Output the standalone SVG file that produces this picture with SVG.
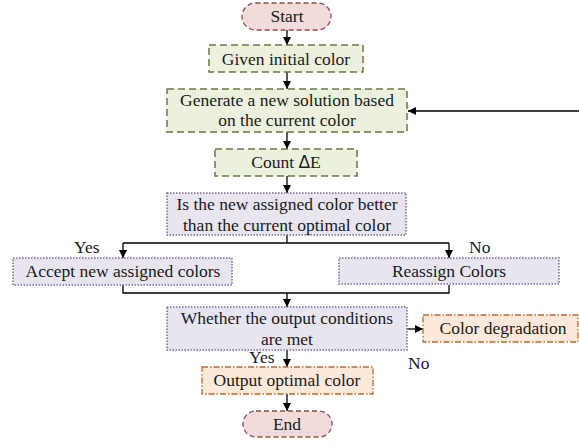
<svg xmlns="http://www.w3.org/2000/svg" width="579" height="446" viewBox="0 0 579 446">
<defs>
<style>
text{font-family:'Liberation Serif','Times New Roman',Times,serif;font-size:17.5px;fill:#1a1a1a;text-anchor:middle}
.term{fill:#f2dcdb;stroke:#8c4f4c;stroke-width:1.3;stroke-dasharray:5 3}
.green{fill:#ebf1dd;stroke:#687a43;stroke-width:1.5;stroke-dasharray:7 4}
.purple{fill:#e8e5ef;stroke:#7a6a9a;stroke-width:1.5;stroke-dasharray:1.5 1.5}
.orange{fill:#fde9d9;stroke:#b86b2c;stroke-width:1.3;stroke-dasharray:6 2 1.5 2}
.conn{fill:none;stroke:#000;stroke-width:1.3}
.lbl{text-anchor:start}
</style>
<marker id="arr" viewBox="0 0 10 10" refX="10" refY="5" markerWidth="8" markerHeight="8" markerUnits="userSpaceOnUse" orient="auto">
<path d="M0,0 L10,5 L0,10 z" fill="#000"/>
</marker>
</defs>
<rect width="579" height="446" fill="#fff"/>

<g id="connectors">
<line class="conn" x1="287" y1="30" x2="287" y2="45" marker-end="url(#arr)"/>
<line class="conn" x1="287" y1="72" x2="287" y2="89" marker-end="url(#arr)"/>
<line class="conn" x1="287" y1="132" x2="287" y2="149" marker-end="url(#arr)"/>
<line class="conn" x1="287" y1="176" x2="287" y2="193" marker-end="url(#arr)"/>
<line class="conn" x1="579" y1="111" x2="408" y2="111" marker-end="url(#arr)"/>
<polyline class="conn" points="287,235 287,243"/>
<polyline class="conn" points="123,243 449,243"/>
<line class="conn" x1="123" y1="243" x2="123" y2="258" marker-end="url(#arr)"/>
<line class="conn" x1="449" y1="243" x2="449" y2="258" marker-end="url(#arr)"/>
<polyline class="conn" points="123,285 123,293 449,293 449,285"/>
<line class="conn" x1="287" y1="293" x2="287" y2="307" marker-end="url(#arr)"/>
<line class="conn" x1="407" y1="329" x2="423" y2="329" marker-end="url(#arr)"/>
<line class="conn" x1="287" y1="350" x2="287" y2="367" marker-end="url(#arr)"/>
<line class="conn" x1="287" y1="394" x2="287" y2="411" marker-end="url(#arr)"/>
<text class="lbl" x="74" y="253">Yes</text>
<text class="lbl" x="469" y="253">No</text>
<text class="lbl" x="249" y="363">Yes</text>
<text class="lbl" x="408" y="369">No</text>
</g>

<g id="start">
<rect class="term" x="242" y="3" width="89" height="27" rx="13.5"/>
<text x="287" y="22">Start</text>
</g>
<g id="given">
<rect class="green" x="209" y="45" width="154" height="27"/>
<text x="286" y="65">Given initial color</text>
</g>
<g id="generate">
<rect class="green" x="167" y="89" width="240" height="43"/>
<text x="287" y="106">Generate a new solution based</text>
<text x="287" y="126">on the current color</text>
</g>
<g id="count">
<rect class="green" x="215" y="149" width="142" height="27"/>
<text x="286" y="168">Count <tspan style="font-family:'Liberation Sans',Arial,sans-serif">Δ</tspan>E</text>
</g>
<g id="decision1">
<rect class="purple" x="167" y="193" width="239" height="42"/>
<text x="287" y="210">Is the new assigned color better</text>
<text x="287" y="231">than the current optimal color</text>
</g>
<g id="accept">
<rect class="purple" x="13" y="258" width="219" height="27"/>
<text x="123" y="277">Accept new assigned colors</text>
</g>
<g id="reassign">
<rect class="purple" x="339" y="258" width="220" height="26"/>
<text x="449" y="277">Reassign Colors</text>
</g>
<g id="decision2">
<rect class="purple" x="167" y="307" width="240" height="43"/>
<text x="287" y="324">Whether the output conditions</text>
<text x="287" y="345">are met</text>
</g>
<g id="degradation">
<rect class="orange" x="423" y="315" width="155" height="27"/>
<text x="503" y="334">Color degradation</text>
</g>
<g id="output">
<rect class="orange" x="202" y="367" width="171" height="27"/>
<text x="287" y="386">Output optimal color</text>
</g>
<g id="end">
<rect class="term" x="243" y="411" width="89" height="26" rx="13"/>
<text x="287" y="430">End</text>
</g>
</svg>
